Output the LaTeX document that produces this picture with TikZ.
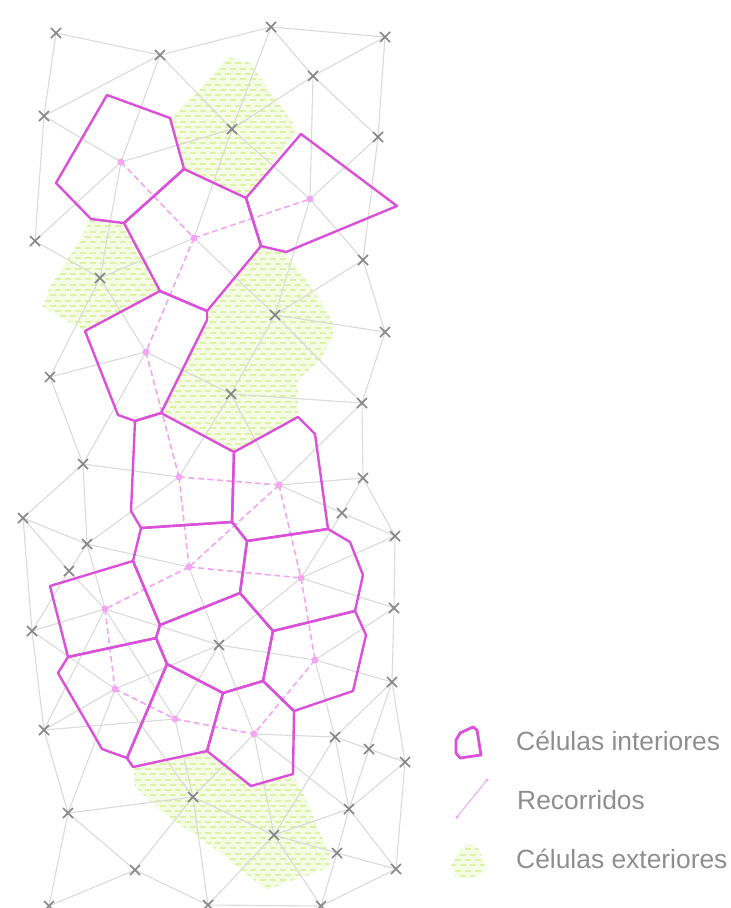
\documentclass[tikz,border=0pt]{standalone}
\usepackage{fontspec}
\setmainfont{Liberation Sans}
\usetikzlibrary{shapes.misc}
\definecolor{cellpink}{HTML}{DA50D9}
\definecolor{routepink}{HTML}{F3A6F0}
\definecolor{edgegray}{HTML}{DADADA}
\definecolor{crossgray}{HTML}{858585}
\definecolor{hatchgreen}{HTML}{DCF2A4}
\definecolor{palegreen}{HTML}{F6FBE5}
\definecolor{labelgray}{HTML}{8E8E8E}
\tikzset{
  xm/.style={cross out,draw=crossgray,line width=1.5pt,minimum size=8.5pt,inner sep=0pt},
  dotm/.style={circle,fill=routepink,minimum size=7pt,inner sep=0pt},
  edgeline/.style={draw=edgegray,line width=1.1pt},
  routeline/.style={draw=routepink,line width=1.6pt,dash pattern=on 6pt off 3.5pt},
  cellline/.style={draw=cellpink,line width=2.4pt,line join=round},
  legendlabel/.style={anchor=base west,text=labelgray,font=\fontsize{26.4}{30}\selectfont,inner sep=0pt}
}
\newcommand{\hatcharea}[3]{%
  \begin{scope}
    \fill[palegreen] #1;
    \clip #1;
    \foreach \i in {0,...,#3} {
      \pgfmathsetmacro{\yy}{#2+5.3*\i}
      \pgfmathsetmacro{\ph}{mod(\i,2)*5}
      \draw[hatchgreen,line width=2pt,dash pattern=on 6pt off 4pt,dash phase=\ph pt] (0,\yy) -- (731,\yy);
    }
  \end{scope}}
\begin{document}
\begin{tikzpicture}[x=1pt,y=-1pt]
\useasboundingbox (0,0) rectangle (731,908);
% exterior cells
\hatcharea{(228,57)--(250,63)--(267,87)--(293,123)--(295,133)--(246,198)--(184,169)--(170,118)--(197,92)--cycle}{58}{27}
\hatcharea{(91,219)--(124,223)--(160,291)--(125,310)--(85,331)--(43,307)--(50,287)--(80,240)--cycle}{221}{21}
\hatcharea{(261,246)--(286,252)--(320,300)--(333,323)--(333,337)--(320,360)--(298,380)--(298,417)--(234,452)--(161,413)--(207,320)--(207,312)--cycle}{248}{40}
\hatcharea{(133,767)--(207,751)--(251,786)--(293,774)--(305,797)--(320,833)--(330,853)--(330,867)--(293,880)--(267,890)--(250,877)--(217,850)--(163,813)--(135,787)--cycle}{753}{27}
% mesh vertices
\foreach \n/\x/\y in {A1/56/33,A2/160/55,A3/271/27,A4/385/37,A5/313/76,A6/44/116,A7/232/129,A8/378/137,A9/35/241,A10/100/278,A11/363/260,
 B1/275/315,B2/385/332,B3/50/377,B4/231/394,B5/362/403,B6/83/464,B7/363/478,B8/342/513,B9/23/518,B10/395/536,B11/87/544,B12/69/571,B13/394/608,
 C1/32/631,C2/219/645,C3/392/682,C4/44/730,C5/335/737,C6/369/749,C7/405/762,C8/193/797,C9/349/809,C10/68/813,C11/274/835,C12/337/853,C13/135/870,C14/396/869,C15/49/906,C16/208/905,C17/321/906}
  \coordinate (\n) at (\x,\y);
\foreach \n/\x/\y in {P1/121/162,P2/194/238,P3/310/199,P4/146/352,P5/179/477,P6/279/485,P7/189/567,P8/301/578,P9/105/609,P10/315/660,P11/115/689,P12/175/719,P13/254/734}
  \coordinate (\n) at (\x,\y);
% mesh edges
\foreach \a/\b in {A1/A2,A2/A3,A3/A4,A1/A6,A2/A6,A2/P1,A2/A7,A3/A5,A3/A7,A4/A5,A5/A7,A5/A8,A4/A8,A5/P3,A6/P1,A6/A9,P1/A7,P1/A9,P1/A10,A7/P3,A7/P2,A8/P3,A8/A11,P3/A11,P3/B1,A9/A10,A10/P2,P2/B1,A11/B1,A11/B2,A10/P4,A10/B3,
 B1/B2,P4/B4,B1/B4,B1/B5,B2/B5,B4/B5,B3/P4,B3/B6,B6/P4,B4/P5,B4/P6,P6/B5,B5/B7,P6/B7,P6/B8,B7/B8,B7/B10,B8/B10,B8/P8,B10/P8,P8/B13,B10/B13,B6/P5,B6/B9,B6/B11,B9/B11,B9/B12,B9/C1,B11/P5,B11/B12,B11/P7,B12/P9,B11/P9,
 P7/C2,C2/P8,C2/P10,P10/C3,P10/B13,C3/B13,P10/C5,C3/C5,C3/C6,C3/C7,C6/C9,C5/C6,C6/C7,C7/C9,C7/C14,C5/C9,C9/C12,C12/C17,C9/C14,C12/C14,C14/C17,C9/C11,C5/C11,P13/C9,P13/C5,P13/C8,P13/C11,P13/C2,C2/P11,C2/P12,P9/C1,P9/C2,P9/C4,P9/P12,C1/P11,C1/C4,C4/P11,C4/P12,C4/C10,P11/C10,P11/C8,P12/C8,C10/C8,C10/C13,C10/C15,C13/C8,C13/C15,C13/C16,C8/C16,C8/C11,C16/C11,C11/C17,C11/C12,C16/C17,B12/C1}
  \draw[edgeline] (\a) -- (\b);
% crosses
\foreach \n in {A1,A2,A3,A4,A5,A6,A7,A8,A9,A10,A11,B1,B2,B3,B4,B5,B6,B7,B8,B9,B10,B11,B12,B13,C1,C2,C3,C4,C5,C6,C7,C8,C9,C10,C11,C12,C13,C14,C15,C16,C17}
  \node[xm] (x\n) at (\n) {};
% routes
\foreach \a/\b in {P1/P2,P2/P3,P2/P4,P4/P5,P5/P6,P5/P7,P6/P7,P6/P8,P7/P8,P7/P9,P8/P10,P9/P11,P11/P12,P12/P13,P10/P13}
  \draw[routeline] (\a) -- (\b);
\foreach \n in {P1,P2,P3,P4,P5,P6,P7,P8,P9,P10,P11,P12,P13}
  \node[dotm] (d\n) at (\n) {};
% interior cells
\draw[cellline] (107,95)--(170,118)--(184,169)--(124,223)--(91,219)--(56,183)--cycle;
\draw[cellline] (184,169)--(246,198)--(261,246)--(207,311)--(160,291)--(124,223)--cycle;
\draw[cellline] (246,198)--(301,134)--(397,206)--(286,252)--(261,246)--cycle;
\draw[cellline] (160,291)--(207,311)--(207,320)--(161,413)--(135,421)--(118,415)--(85,331)--cycle;
\draw[cellline] (135,421)--(161,413)--(234,452)--(232,522)--(141,528)--(131,511)--cycle;
\draw[cellline] (234,452)--(298,417)--(315,434)--(328,529)--(247,541)--(232,522)--cycle;
\draw[cellline] (141,528)--(232,522)--(247,541)--(240,593)--(160,625)--(133,561)--cycle;
\draw[cellline] (247,541)--(328,529)--(350,542)--(363,575)--(355,611)--(273,631)--(240,593)--cycle;
\draw[cellline] (133,561)--(50,586)--(68,657)--(156,638)--(160,625)--cycle;
\draw[cellline] (160,625)--(240,593)--(273,631)--(263,681)--(223,693)--(167,664)--(156,638)--cycle;
\draw[cellline] (273,631)--(355,611)--(366,635)--(353,691)--(294,711)--(263,681)--cycle;
\draw[cellline] (68,657)--(156,638)--(167,664)--(127,758)--(102,749)--(58,673)--cycle;
\draw[cellline] (167,664)--(223,693)--(207,751)--(133,767)--(127,758)--cycle;
\draw[cellline] (223,693)--(263,681)--(294,711)--(293,774)--(251,786)--(207,751)--cycle;
% legend
\draw[cellline,line width=2.8pt] (460,733)--(473,727)--(477,730)--(481,755)--(460,758)--(456,753)--(456,740)--cycle;
\coordinate (ra) at (487,780);
\coordinate (rb) at (457,817);
\draw[draw=routepink,line width=1pt] (ra) -- (rb);
\node[dotm,minimum size=3.5pt] (rad) at (ra) {};
\node[dotm,minimum size=3.5pt] (rbd) at (rb) {};
\hatcharea{(468,843)--(478,848)--(485,865)--(483,873)--(470,878)--(455,876)--(451,866)--(460,850)--cycle}{844}{6}
\node[legendlabel] (l1) at (516,750) {Células interiores};
\node[legendlabel] (l2) at (517,809) {Recorridos};
\node[legendlabel] (l3) at (516,868) {Células exteriores};
\end{tikzpicture}
\end{document}
